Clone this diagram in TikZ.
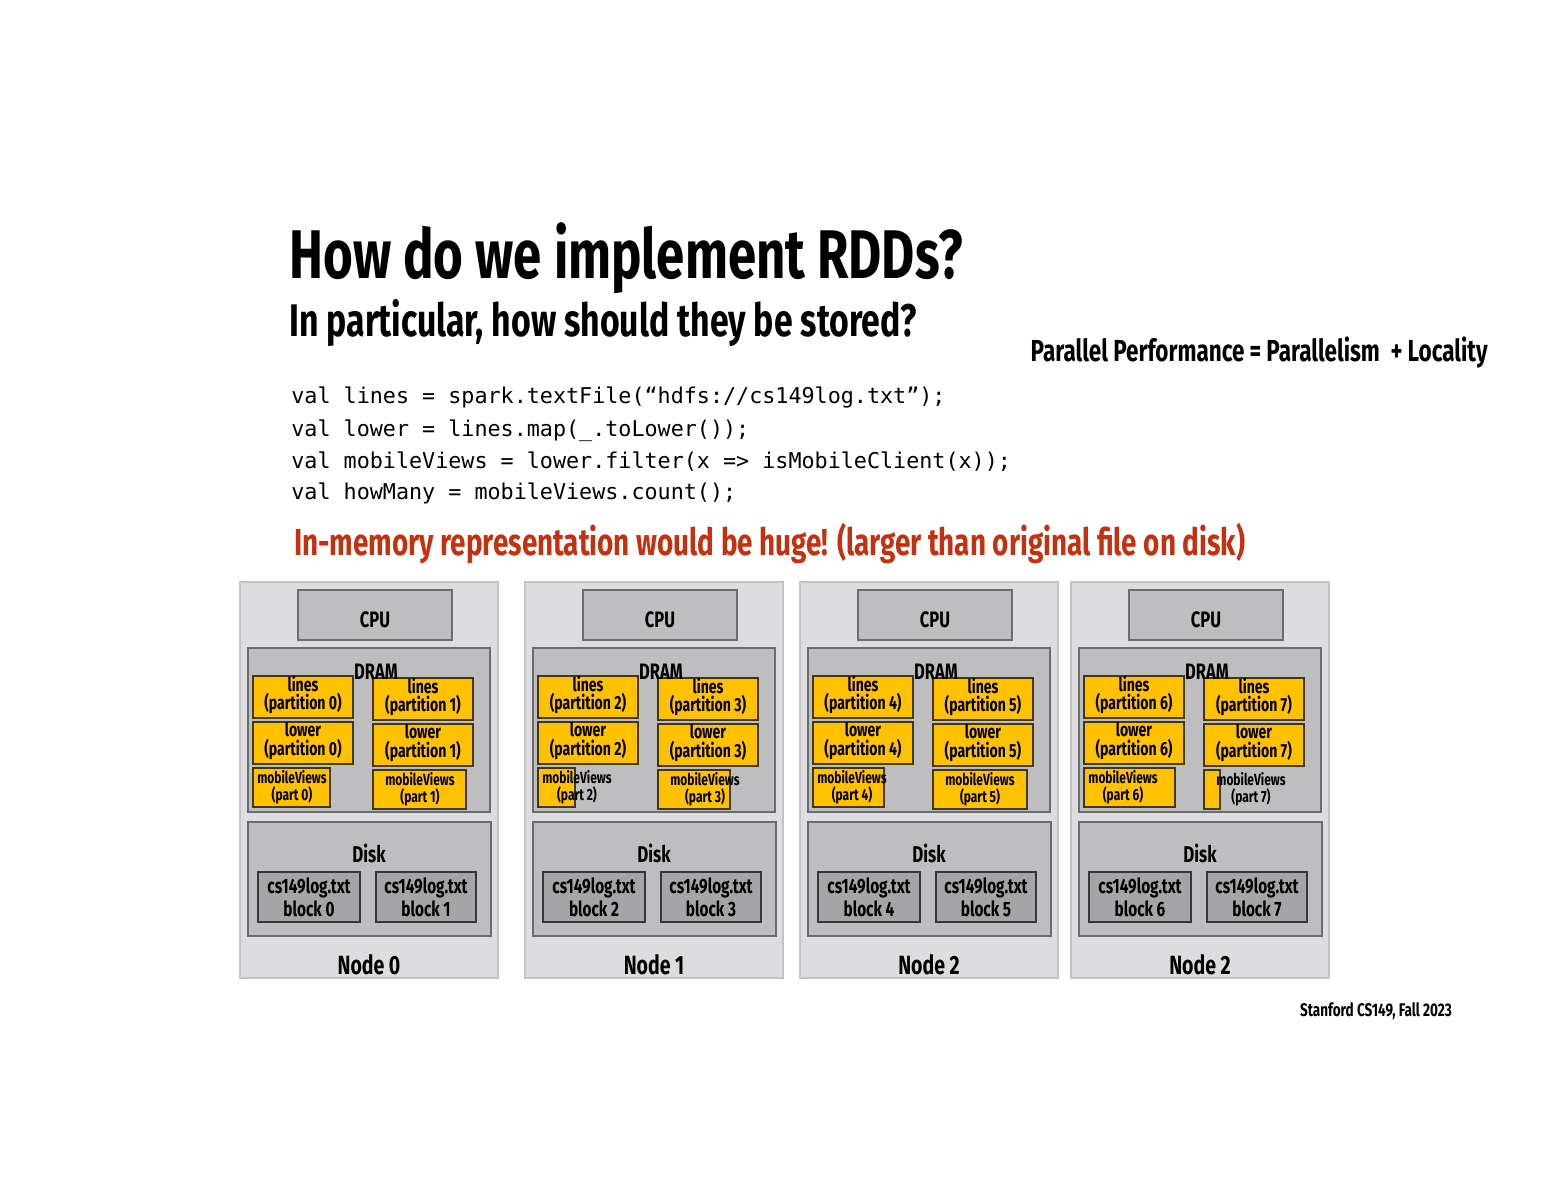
\documentclass[tikz,border=0pt]{standalone}
\usepackage{fontspec}
\setmainfont[FakeStretch=0.74]{Fira Sans}
\setmonofont{DejaVu Sans Mono}
\usepackage{xcolor}
\usetikzlibrary{positioning}

\definecolor{panelfill}{RGB}{221,221,223}
\definecolor{panelline}{RGB}{196,196,198}
\definecolor{unitfill}{RGB}{190,190,192}
\definecolor{unitline}{RGB}{108,108,110}
\definecolor{partfill}{RGB}{255,193,0}
\definecolor{partline}{RGB}{70,55,20}
\definecolor{blockfill}{RGB}{165,165,167}
\definecolor{blockline}{RGB}{55,55,57}
\definecolor{warnred}{RGB}{196,48,16}

\begin{document}
\begin{tikzpicture}[
  x=0.02cm,
  y=-0.02cm,
  panel/.style={fill=panelfill, draw=panelline, line width=0.8pt},
  unit/.style={fill=unitfill, draw=unitline, line width=1pt},
  part/.style={fill=partfill, draw=partline, line width=0.6pt},
  block/.style={fill=blockfill, draw=blockline, line width=0.9pt},
  parttext/.style={font=\bfseries\fontsize{10.8}{10.4}\selectfont, align=center, inner sep=0pt},
  mobtext/.style={font=\bfseries\fontsize{9.2}{9.4}\selectfont, align=center, inner sep=0pt},
  unitlabel/.style={font=\bfseries\fontsize{12.7}{13}\selectfont, inner sep=0pt},
  blocktext/.style={font=\bfseries\fontsize{11.8}{13}\selectfont, align=center, inner sep=0pt},
  nodelabel/.style={font=\bfseries\fontsize{15}{17}\selectfont, inner sep=0pt},
  codeline/.style={font=\ttfamily\fontsize{12.37}{14}\selectfont, anchor=base west, inner sep=0pt}
]
\useasboundingbox[fill=white] (0,0) rectangle (1553,1200);

% heading
\node[font=\bfseries\fontsize{39.2}{41}\selectfont, anchor=base west, inner sep=0pt] (title) at (289,278) {How do we implement RDDs?};
\node[font=\bfseries\fontsize{26}{28}\selectfont, anchor=base west, inner sep=0pt] (subtitle) at (289,336) {In particular, how should they be stored?};
\node[font=\bfseries\fontsize{17.3}{20}\selectfont, anchor=base east, inner sep=0pt] (motto) at (1488,361) {Parallel Performance\,=\,Parallelism\ \ +\,Locality};

% program
\node[codeline] (code1) at (291,403) {val lines = spark.textFile(“hdfs://cs149log.txt”);};
\node[codeline] (code2) at (291,436) {val lower = lines.map(\_.toLower());};
\node[codeline] (code3) at (291,468) {val mobileViews = lower.filter(x => isMobileClient(x));};
\node[codeline] (code4) at (291,499) {val howMany = mobileViews.count();};

\node[font=\bfseries\fontsize{21.4}{24}\selectfont, text=warnred, anchor=base west, inner sep=0pt] (warn) at (294,555) {In-memory representation would be huge! (larger than original file on disk)};

% cluster nodes
\foreach \px/\n/\a/\b/\wa/\wb/\lbl in {240/0/0/1/77/93/0, 525/1/2/3/37/72/1, 800/2/4/5/71/94/2, 1071/3/6/7/91/16/2}{
  \begin{scope}[shift={(\px,582)}]
    \draw[panel] (0,0) rectangle (258,396);
    % CPU
    \draw[unit] (58,8) rectangle (212,58);
    \node[unitlabel] (cpu\n) at (135,38) {CPU};
    % DRAM
    \draw[unit] (8,66) rectangle (250,230);
    \draw[part] (13,94) rectangle (113,136);
    \draw[part] (133,96) rectangle (233,138);
    \draw[part] (13,140) rectangle (113,182);
    \draw[part] (133,142) rectangle (233,184);
    \draw[part] (13,186) rectangle (13+\wa,225);
    \draw[part] (133,188) rectangle (133+\wb,227);
    \node[unitlabel] (dram\n) at (136,90) {DRAM};
    \node[parttext] (linesA\n) at (63,113) {lines\\(partition \a)};
    \node[parttext] (linesB\n) at (183,115) {lines\\(partition \b)};
    \node[parttext] (lowerA\n) at (63,159) {lower\\(partition \a)};
    \node[parttext] (lowerB\n) at (183,161) {lower\\(partition \b)};
    \node[mobtext] (mobA\n) at (52,205) {mobileViews\\(part \a)};
    \node[mobtext] (mobB\n) at (180,207) {mobileViews\\(part \b)};
    % Disk
    \draw[unit] (8,240) rectangle (251,354);
    \node[unitlabel, font=\bfseries\fontsize{13}{14}\selectfont] (disk\n) at (129,271) {Disk};
    \draw[block] (18,290) rectangle (120,340);
    \draw[block] (136,290) rectangle (236,340);
    \node[blocktext] (blockA\n) at (69,315) {cs149log.txt\\block \a};
    \node[blocktext] (blockB\n) at (186,315) {cs149log.txt\\block \b};
    \node[nodelabel] (name\n) at (129,383) {Node \lbl};
  \end{scope}
}

\node[font=\bfseries\fontsize{10.4}{12}\selectfont, inner sep=0pt] (footer) at (1376,1011) {Stanford CS149, Fall 2023};
\end{tikzpicture}
\end{document}
